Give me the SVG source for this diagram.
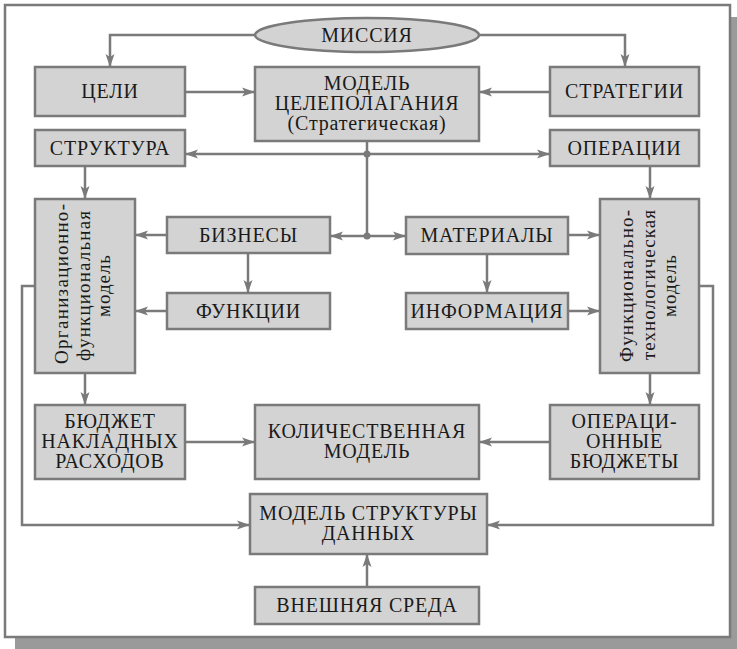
<svg xmlns="http://www.w3.org/2000/svg" width="737" height="649" viewBox="0 0 737 649">
<style>
.box{fill:#d3d3d3;stroke:#7a7a7a;stroke-width:2.5}
.t{font-family:"Liberation Serif","Times New Roman",serif;font-size:20px;fill:#1a1a1a;text-anchor:middle;letter-spacing:0.8px}
.r{font-family:"Liberation Serif","Times New Roman",serif;font-size:19px;fill:#1a1a1a;text-anchor:middle}
.c{fill:none;stroke:#7a7a7a;stroke-width:2.5}
</style>
<defs>
<marker id="ah" markerUnits="userSpaceOnUse" markerWidth="14" markerHeight="10" refX="13" refY="5" orient="auto">
<path d="M0,0.5 L13,5 L0,9.5 L3,5 z" fill="#7a7a7a"/>
</marker>
</defs>
<rect x="15" y="17" width="722" height="632" fill="#9a9a9a"/>
<rect x="5" y="5" width="725" height="632" fill="#fff" stroke="#7a7a7a" stroke-width="2.5"/>

<g id="connectors">
<path class="c" d="M255,35 H110 V67" marker-end="url(#ah)"/>
<path class="c" d="M479,35 H625 V67" marker-end="url(#ah)"/>
<path class="c" d="M185,92 H255" marker-end="url(#ah)"/>
<path class="c" d="M550,92 H479" marker-end="url(#ah)"/>
<path class="c" d="M367,141 V236"/>
<path class="c" d="M367,154 H185" marker-end="url(#ah)"/>
<path class="c" d="M367,154 H550" marker-end="url(#ah)"/>
<path class="c" d="M367,236 H330" marker-end="url(#ah)"/>
<path class="c" d="M367,236 H406" marker-end="url(#ah)"/>
<circle cx="367" cy="154" r="3.5" fill="#7a7a7a"/>
<circle cx="367" cy="236" r="3.5" fill="#7a7a7a"/>
<path class="c" d="M85,166 V199" marker-end="url(#ah)"/>
<path class="c" d="M650,166 V199" marker-end="url(#ah)"/>
<path class="c" d="M167,235 H135" marker-end="url(#ah)"/>
<path class="c" d="M248,253 V293" marker-end="url(#ah)"/>
<path class="c" d="M167,311 H135" marker-end="url(#ah)"/>
<path class="c" d="M568,235 H600" marker-end="url(#ah)"/>
<path class="c" d="M487,254 V293" marker-end="url(#ah)"/>
<path class="c" d="M568,311 H600" marker-end="url(#ah)"/>
<path class="c" d="M35,286 H22 V525 H250" marker-end="url(#ah)"/>
<path class="c" d="M699,286 H713 V525 H487" marker-end="url(#ah)"/>
<path class="c" d="M85,373 V405" marker-end="url(#ah)"/>
<path class="c" d="M650,373 V405" marker-end="url(#ah)"/>
<path class="c" d="M185,442 H255" marker-end="url(#ah)"/>
<path class="c" d="M550,442 H479" marker-end="url(#ah)"/>
<path class="c" d="M367,587 V554" marker-end="url(#ah)"/>
</g>

<g id="missiya"><ellipse class="box" cx="367" cy="35" rx="112" ry="17"/><text class="t" x="367" y="42">МИССИЯ</text></g>
<g id="celi"><rect class="box" x="35" y="67" width="150" height="49"/><text class="t" x="110" y="98">ЦЕЛИ</text></g>
<g id="model-celepolaganiya"><rect class="box" x="255" y="67" width="224" height="74"/>
<text class="t" x="367" y="90">МОДЕЛЬ</text><text class="t" x="367" y="110">ЦЕЛЕПОЛАГАНИЯ</text><text class="t" x="367" y="130">(Стратегическая)</text></g>
<g id="strategii"><rect class="box" x="550" y="67" width="149" height="49"/><text class="t" x="624.5" y="98">СТРАТЕГИИ</text></g>
<g id="struktura"><rect class="box" x="35" y="130" width="150" height="36"/><text class="t" x="110" y="155">СТРУКТУРА</text></g>
<g id="operacii"><rect class="box" x="550" y="130" width="149" height="36"/><text class="t" x="624.5" y="155">ОПЕРАЦИИ</text></g>
<g id="org-model"><rect class="box" x="35" y="199" width="100" height="174"/>
<g transform="translate(85,284) rotate(-90)">
<text class="r" x="0" y="-17" textLength="160" lengthAdjust="spacing">Организационно-</text><text class="r" x="-2" y="5" textLength="150" lengthAdjust="spacing">функциональная</text><text class="r" x="-2" y="25" textLength="62" lengthAdjust="spacing">модель</text></g></g>
<g id="biznesy"><rect class="box" x="167" y="217" width="163" height="36"/><text class="t" x="248.5" y="242">БИЗНЕСЫ</text></g>
<g id="funkcii"><rect class="box" x="167" y="293" width="163" height="36"/><text class="t" x="248.5" y="318">ФУНКЦИИ</text></g>
<g id="materialy"><rect class="box" x="406" y="217" width="162" height="37"/><text class="t" x="487" y="242">МАТЕРИАЛЫ</text></g>
<g id="informaciya"><rect class="box" x="406" y="293" width="162" height="36"/><text class="t" x="487" y="318">ИНФОРМАЦИЯ</text></g>
<g id="func-model"><rect class="box" x="600" y="199" width="99" height="174"/>
<g transform="translate(649.5,286) rotate(-90)">
<text class="r" x="0" y="-17" textLength="152" lengthAdjust="spacing">Функционально-</text><text class="r" x="1" y="5" textLength="150" lengthAdjust="spacing">технологическая</text><text class="r" x="0" y="26" textLength="62" lengthAdjust="spacing">модель</text></g></g>
<g id="byudzhet"><rect class="box" x="35" y="405" width="150" height="74"/>
<text class="t" x="110" y="428">БЮДЖЕТ</text><text class="t" x="110" y="448">НАКЛАДНЫХ</text><text class="t" x="110" y="468">РАСХОДОВ</text></g>
<g id="kolichestvennaya"><rect class="box" x="255" y="405" width="224" height="74"/>
<text class="t" x="367" y="438">КОЛИЧЕСТВЕННАЯ</text><text class="t" x="367" y="458">МОДЕЛЬ</text></g>
<g id="oper-byudzhety"><rect class="box" x="550" y="405" width="149" height="74"/>
<text class="t" x="624.5" y="428">ОПЕРАЦИ-</text><text class="t" x="624.5" y="448">ОННЫЕ</text><text class="t" x="624.5" y="468">БЮДЖЕТЫ</text></g>
<g id="model-struktury"><rect class="box" x="250" y="494" width="237" height="60"/>
<text class="t" x="368.5" y="520">МОДЕЛЬ СТРУКТУРЫ</text><text class="t" x="368.5" y="540">ДАННЫХ</text></g>
<g id="vneshnyaya"><rect class="box" x="255" y="587" width="224" height="37"/><text class="t" x="367" y="612">ВНЕШНЯЯ СРЕДА</text></g>
</svg>
